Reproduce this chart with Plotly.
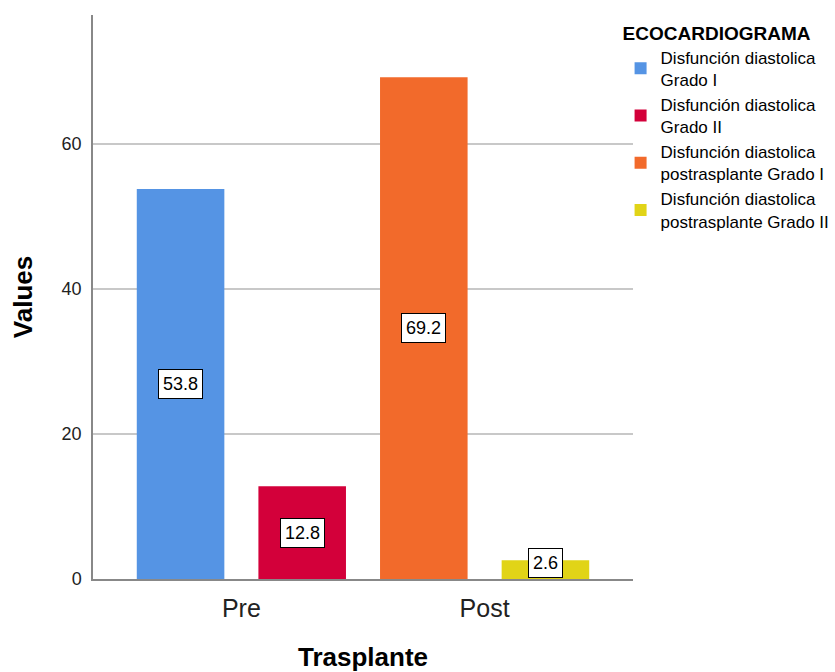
import plotly.graph_objects as go

categories = ["Pre", "Post"]
series_names = [
    "Disfunción diastolica<br>Grado I",
    "Disfunción diastolica<br>Grado II",
    "Disfunción diastolica<br>postrasplante Grado I",
    "Disfunción diastolica<br>postrasplante Grado II",
]
series_category = ["Pre", "Pre", "Post", "Post"]
series_values = [53.8, 12.8, 69.2, 2.6]
series_colors = ["#5594E4", "#D3003A", "#F26A2B", "#E1D417"]
series_group = ["a", "b", "a", "b"]
y_ticks = [0, 20, 40, 60]

FONT = "Arial, Liberation Sans, sans-serif"

fig = go.Figure()
for name, cat, val, col, grp in zip(series_names, series_category, series_values, series_colors, series_group):
    fig.add_trace(go.Bar(
        x=[cat], y=[val], name=name, marker=dict(color=col, line=dict(width=0)),
        offsetgroup=grp,
    ))

# value labels in white boxes at bar mid-height (kept inside short bars)
offsets = {"a": -0.25, "b": 0.25}
for cat, val, grp in zip(series_category, series_values, series_group):
    small = val < 5
    fig.add_annotation(
        x=categories.index(cat) + offsets[grp], y=0 if small else val / 2,
        yanchor="bottom" if small else "middle", yshift=1 if small else 0,
        text=f"{val:.1f}",
        showarrow=False, bgcolor="white", bordercolor="black", borderwidth=1,
        borderpad=4, font=dict(family=FONT, size=18, color="black"),
    )

fig.update_layout(
    width=835, height=672,
    margin=dict(l=93, r=202, t=15, b=93, autoexpand=False),
    paper_bgcolor="white", plot_bgcolor="white",
    barmode="group", bargap=0, bargroupgap=0.28,
    font=dict(family=FONT, color="#222222"),
    showlegend=True,
    legend=dict(
        x=0.977, y=1.0, xanchor="left", yanchor="top",
        title=dict(text="<b>ECOCARDIOGRAMA</b>", font=dict(family=FONT, size=19, color="black")),
        font=dict(family=FONT, size=17, color="black"),
        tracegroupgap=0, itemsizing="constant", bgcolor="rgba(0,0,0,0)",
    ),
)
fig.update_xaxes(
    range=[-0.61, 1.61], showline=True, linecolor="#888888", linewidth=1.5,
    ticks="", ticklabelstandoff=6, tickfont=dict(family=FONT, size=25, color="#222222"),
    title=dict(text="<b>Trasplante</b>", font=dict(family=FONT, size=26, color="black"), standoff=28),
    showgrid=False,
)
fig.update_yaxes(
    range=[0, 77.8], tickvals=y_ticks, showline=True, linecolor="#888888", linewidth=1.5,
    ticks="", ticklabelstandoff=6, tickfont=dict(family=FONT, size=18, color="#222222"),
    showgrid=True, gridcolor="#C8C8C8", gridwidth=1.5, zeroline=False,
    title=dict(text="<b>Values</b>", font=dict(family=FONT, size=26, color="black"), standoff=22),
)

fig.write_html("out.html")
